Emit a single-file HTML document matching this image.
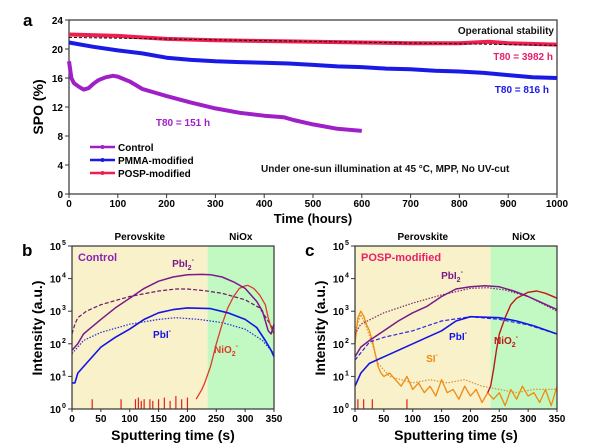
<!DOCTYPE html>
<html><head><meta charset="utf-8">
<style>
body{margin:0;background:#fff;}
svg{display:block;font-family:"Liberation Sans",Arial,sans-serif;font-weight:bold;}
</style></head>
<body>
<svg id="fig" width="600" height="448" viewBox="0 0 600 448">
<g id="pa"></g>
<g id="pb"></g>
<g id="pc"></g>
</svg>
<script>
// ---------- Panel a data ----------
const aCtrlX=[0,5,10,20,30,40,50,60,75,90,100,125,150,175,200,250,300,350,400,440,460,500,550,600];
const aCtrlY=[18.3,16,15.3,14.8,14.4,14.6,15.2,15.7,16.1,16.3,16.2,15.5,14.5,14,13.5,12.6,11.8,11.2,10.8,10.6,10.2,9.6,9.0,8.7];
const aPmmaX=[0,50,100,150,200,250,300,350,400,450,500,550,600,650,700,750,800,850,900,950,1000];
const aPmmaY=[20.9,20.3,19.8,19.4,18.8,18.5,18.3,18.2,18.1,18.0,17.8,17.6,17.5,17.3,17.2,17.0,16.9,16.7,16.4,16.1,16.0];
const aPospX=[0,100,200,300,400,500,600,700,800,860,900,1000];
const aPospY=[22,21.8,21.4,21.2,21.1,21.0,20.9,20.8,20.8,21.0,20.8,20.6];
const aFitX=[0,1000];
const aFitY=[21.6,20.5];
const aXTicks=[0,100,200,300,400,500,600,700,800,900,1000];
const aYTicks=[0,4,8,12,16,20,24];
// ---------- Panel b data (log10 intensity) ----------
const bPbI2X=[0,10,20,30,50,75,100,125,150,175,200,225,240,260,280,300,320,330,340,345,350];
const bPbI2Y=[1.8,2.0,2.3,2.45,2.75,3.1,3.4,3.7,3.92,4.05,4.12,4.13,4.12,4.05,3.9,3.7,3.3,3.0,2.4,2.3,2.6];
const bPbI2dX=[0,5,10,25,50,100,150,180,200,230,260,300,325,340,350];
const bPbI2dY=[2.3,2.6,2.8,3.0,3.2,3.45,3.62,3.68,3.68,3.63,3.55,3.35,3.1,2.7,2.4];
const bPbIX=[0,5,10,20,30,40,50,75,100,125,150,175,200,240,270,300,320,335,345,350];
const bPbIY=[0.8,0.8,1.1,1.3,1.5,1.7,1.9,2.2,2.45,2.75,2.95,3.05,3.1,3.08,2.95,2.75,2.5,2.1,1.8,1.6];
const bPbIdX=[0,20,50,100,150,180,220,260,300,330,350];
const bPbIdY=[1.7,2.1,2.35,2.6,2.75,2.8,2.75,2.65,2.45,2.1,1.7];
const bNiX=[215,225,230,240,250,260,270,280,290,300,305,315,325,335,340,345,350];
const bNiY=[0.3,0.6,0.8,1.3,2.0,2.6,3.1,3.45,3.7,3.78,3.79,3.7,3.5,3.2,2.8,2.5,2.3];
const bSpikeX=[35,85,110,115,120,125,135,140,150,160,170,180,190,200];
const bSpikeY=[0.3,0.3,0.3,0.35,0.25,0.3,0.3,0.25,0.3,0.35,0.25,0.4,0.3,0.35];
// ---------- Panel c data ----------
const cPbI2X=[0,10,25,50,75,100,125,150,175,200,225,250,275,300,325,350];
const cPbI2Y=[1.6,1.9,2.1,2.4,2.7,2.95,3.15,3.45,3.68,3.75,3.78,3.75,3.62,3.45,3.25,3.05];
const cPbI2dX=[0,10,50,100,150,200,230,260,300,350];
const cPbI2dY=[2.3,2.6,2.95,3.25,3.5,3.7,3.72,3.65,3.45,3.0];
const cPbIX=[0,10,25,50,75,100,125,150,175,200,250,280,310,350];
const cPbIY=[0.7,1.1,1.4,1.6,1.8,2.0,2.2,2.4,2.7,2.83,2.8,2.7,2.55,2.3];
const cPbIdX=[0,25,50,100,150,200,250,300,350];
const cPbIdY=[1.5,2.05,2.2,2.4,2.7,2.83,2.75,2.58,2.3];
const cSiX=[0,5,10,15,20,25,30,35,40,45,50,60,70,80,90,100,110,120,130,140,150,160,170,180,190,200,210,220,230,240,250,260,270,280,290,300,310,320,330,340,350];
const cSiY=[2.0,2.8,3.0,2.85,2.6,2.4,2.1,1.7,1.3,1.1,1.0,1.1,0.9,0.7,1.0,0.6,0.8,0.5,0.7,0.4,0.9,0.5,0.6,0.3,0.7,0.4,0.6,0.2,0.5,0.3,0.5,0.1,0.6,0.3,0.7,0.4,0.5,0.2,0.6,0.1,0.7];
const cSidX=[0,10,20,30,40,60,80,100,130,160,190,220,250,280,310,350];
const cSidY=[2.4,2.9,2.5,2.0,1.4,1.0,0.9,0.8,0.9,0.8,0.9,0.7,0.6,0.5,0.6,0.6];
const cNiX=[230,235,240,245,250,260,270,280,300,315,330,350];
const cNiY=[0.5,0.7,1.2,1.8,2.3,2.8,3.2,3.4,3.58,3.62,3.55,3.4];
const cSpikeX=[5,15,30,90];
const cSpikeY=[0.3,0.3,0.3,0.3];
const logTicks=[0,1,2,3,4,5];
const sXTicks=[0,50,100,150,200,250,300,350];

const NS="http://www.w3.org/2000/svg";
function mk(parent,tag,attrs,text){const e=document.createElementNS(NS,tag);for(const k in attrs)e.setAttribute(k,attrs[k]);if(text!==undefined)e.textContent=text;parent.appendChild(e);return e;}
function path(xs,ys,sx,sy){return xs.map((x,i)=>(i?'L':'M')+sx(x).toFixed(1)+','+sy(ys[i]).toFixed(1)).join('');}

// ===== Panel a =====
(function(){
const g=document.getElementById('pa');
const L=69,R=557,T=20,B=194;
const sx=v=>L+(v/1000)*(R-L), sy=v=>B-(v/24)*(B-T);
let e=mk(g,'text',{x:23,y:26,'font-size':17});e.textContent='a';

e=mk(g,'rect',{x:L,y:T,width:R-L,height:B-T,fill:'none',stroke:'#333','stroke-width':1.2});

aXTicks.forEach(t=>{const x=sx(t);
 const tk=mk(g,'line',{x1:x,x2:x,y1:B,y2:B+4,stroke:'#333'});
 const lb=mk(g,'text',{x:x,y:B+13,'font-size':10,'text-anchor':'middle'},String(t));});
aYTicks.forEach(t=>{const y=sy(t);
 const tk=mk(g,'line',{x1:L-4,x2:L,y1:y,y2:y,stroke:'#333'});
 const lb=mk(g,'text',{x:L-6,y:y+4,'font-size':10,'text-anchor':'end'},String(t));});
e=mk(g,'text',{x:313,y:223,'font-size':13,'text-anchor':'middle'},'Time (hours)');

e=mk(g,'text',{x:0,y:0,'font-size':14,'text-anchor':'middle',transform:'translate(43,107) rotate(-90)'},'SPO (%)');

const series=[[aPospX,aPospY,'#ee1f4f','posp-line'],[aPmmaX,aPmmaY,'#1a1ae6','pmma-line'],[aCtrlX,aCtrlY,'#a020c8','control-line']];
series.forEach(s=>{const p=mk(g,'path',{d:path(s[0],s[1],sx,sy),fill:'none',stroke:s[2],'stroke-width':4,'stroke-linejoin':'round'});
 });
e=mk(g,'path',{d:path(aFitX,aFitY,sx,sy),fill:'none',stroke:'#111','stroke-width':1,'stroke-dasharray':'3,2'});

const texts=[[554,34,'end','#111','Operational stability','operational-stability-label'],[553,60,'end','#e8206a','T80 = 3982 h','posp-t80-label'],[549,93,'end','#1a1ae6','T80 = 816 h','pmma-t80-label'],[183,126,'middle','#a020c8','T80 = 151 h','control-t80-label'],[261,172,'start','#111','Under one-sun illumination at 45 \u00B0C, MPP, No UV-cut','condition-label']];
texts.forEach(t=>{const x=mk(g,'text',{x:t[0],y:t[1],'text-anchor':t[2],fill:t[3],'font-size':10},t[4]);});
const leg=[['Control','#a020c8',147],['PMMA-modified','#1a1ae6',160],['POSP-modified','#ee1f4f',173]];
leg.forEach(l=>{const ln=mk(g,'line',{x1:90,x2:115,y1:l[2],y2:l[2],stroke:l[1],'stroke-width':2.5});
 const c=mk(g,'circle',{cx:102.5,cy:l[2],r:2,fill:l[1]});
 const t=mk(g,'text',{x:118,y:l[2]+4,'font-size':10},l[0]);});
})();

// ===== Panels b & c =====
function logPanel(id,L,R,letter,title,titleColor,ser,spX,spY,labels){
const g=document.getElementById(id);
const T=246,B=409,bnd=235;
const sx=v=>L+(v/350)*(R-L), sy=v=>B-(v/5)*(B-T);
let e=mk(g,'rect',{x:L,y:T,width:sx(bnd)-L,height:B-T,fill:'#f9f1c9'});

e=mk(g,'rect',{x:sx(bnd),y:T,width:R-sx(bnd),height:B-T,fill:'#c2f8c2'});

e=mk(g,'text',{x:(L+sx(bnd))/2,y:240,'font-size':10,'text-anchor':'middle'},'Perovskite');

e=mk(g,'text',{x:(sx(bnd)+R)/2,y:240,'font-size':10,'text-anchor':'middle'},'NiOx');

e=mk(g,'text',{x:L-50,y:256,'font-size':17},letter);

spX.forEach((x,i)=>{const s=mk(g,'line',{x1:sx(x),x2:sx(x),y1:B,y2:sy(spY[i]),stroke:'#e02020','stroke-width':1.2});});
ser.forEach(s=>{const p=mk(g,'path',{d:path(s[0],s[1],sx,sy),fill:'none',stroke:s[2],'stroke-width':s[4]||1.3,'stroke-dasharray':s[3]||'none','stroke-linejoin':'round'});
 });
e=mk(g,'rect',{x:L,y:T,width:R-L,height:B-T,fill:'none',stroke:'#333','stroke-width':1.2});

sXTicks.forEach(t=>{const x=sx(t);
 const tk=mk(g,'line',{x1:x,x2:x,y1:B,y2:B+3,stroke:'#333'});
 const lb=mk(g,'text',{x:x,y:B+13,'font-size':10,'text-anchor':'middle'},String(t));});
logTicks.forEach(t=>{const y=sy(t);
 const tk=mk(g,'line',{x1:L-4,x2:L,y1:y,y2:y,stroke:'#333'});
 const lb=mk(g,'text',{x:L-11,y:y+4,'font-size':10,'text-anchor':'end'},'10');
 const ex=mk(g,'text',{x:L-10,y:y-1,'font-size':7},String(t));});
e=mk(g,'text',{x:(L+R)/2,y:440,'font-size':14,'text-anchor':'middle'},'Sputtering time (s)');

e=mk(g,'text',{x:0,y:0,'font-size':14,'text-anchor':'middle',transform:'translate('+(L-30)+',328) rotate(-90)'},'Intensity (a.u.)');

e=mk(g,'text',{x:L+6,y:261,'font-size':11,fill:titleColor},title);

labels.forEach(l=>{const t=mk(g,'text',{x:l[0],y:l[1],'font-size':10,fill:l[2],'text-anchor':'middle'});
 
 t.appendChild(document.createTextNode(l[3]));
 if(l[5]){const s=mk(t,'tspan',{'font-size':7,dy:3},l[5]);}
 const sp=mk(t,'tspan',{'font-size':7,dy:l[5]?-8:-5},'-');});
}
logPanel('pb',72,274,'b','Control','#8a22b8',[
 [bPbI2dX,bPbI2dY,'#6a1a6a','4,2',1.2,'pbi2-dashed'],
 [bPbIdX,bPbIdY,'#2a2ae0','1.5,1.5',1.2,'pbi-dotted'],
 [bNiX,bNiY,'#e03a2a',null,1.3,'nio2-line'],
 [bPbI2X,bPbI2Y,'#7a1a8a',null,1.5,'pbi2-line'],
 [bPbIX,bPbIY,'#1414e6',null,1.6,'pbi-line']],
 bSpikeX,bSpikeY,
 [[183,267,'#7a1a8a','PbI','pbi2-label','2'],[162,338,'#1414e6','PbI','pbi-label'],[226,353,'#e03a2a','NiO','nio2-label','2']]);
logPanel('pc',355,557,'c','POSP-modified','#e8206a',[
 [cSidX,cSidY,'#e09030','1.5,1.5',1.2,'si-dotted'],
 [cSiX,cSiY,'#f08a10',null,1.3,'si-line'],
 [cPbI2dX,cPbI2dY,'#7a2a6a','1.5,1.5',1.2,'pbi2-dotted'],
 [cPbIdX,cPbIdY,'#2a2ae0','4,2',1.2,'pbi-dashed'],
 [cNiX,cNiY,'#c01818',null,1.4,'nio2-line'],
 [cPbI2X,cPbI2Y,'#7a1a8a',null,1.5,'pbi2-line'],
 [cPbIX,cPbIY,'#1414e6',null,1.6,'pbi-line']],
 cSpikeX,cSpikeY,
 [[452,279,'#7a1a8a','PbI','pbi2-label','2'],[458,340,'#1414e6','PbI','pbi-label'],[506,344,'#c01818','NiO','nio2-label','2'],[432,362,'#f08a10','SI','si-label']]);
</script>
</body></html>
